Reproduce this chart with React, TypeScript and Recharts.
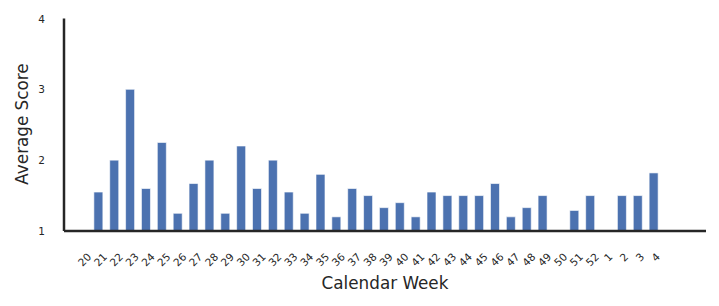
import React from 'react';
import { BarChart, Bar, XAxis, YAxis } from 'recharts';

// calendar weeks, spanning the year end
const weeks = [
  '20', '21', '22', '23', '24', '25', '26', '27', '28', '29', '30', '31', '32',
  '33', '34', '35', '36', '37', '38', '39', '40', '41', '42', '43', '44', '45',
  '46', '47', '48', '49', '50', '51', '52', '1', '2', '3', '4'
];

// average score per week (null = no data)
const scores: (number | null)[] = [
  null, 1.55, 2.0, 3.0, 1.6, 2.25, 1.25, 1.67, 2.0, 1.25, 2.2, 1.6, 2.0,
  1.55, 1.25, 1.8, 1.2, 1.6, 1.5, 1.33, 1.4, 1.2, 1.55, 1.5, 1.5, 1.5,
  1.67, 1.2, 1.33, 1.5, null, 1.29, 1.5, null, 1.5, 1.5, 1.82
];

const yTicks = [1, 2, 3, 4];

const data = weeks.map((week, i) => ({ week, score: scores[i] }));

const FONT = '"DejaVu Sans", sans-serif';
const INK = '#262626';

const WeekTick = (props: any) => {
  const { x, y, payload } = props;
  const label = String(payload.value);
  const fs = 10.5;
  const w = label.length * fs * 0.636;
  const half = (w + fs * 0.73) / (2 * Math.SQRT2);
  const cx = x + 1.5;
  const cy = y + 13 + half;
  return (
    <text
      x={cx}
      y={cy}
      textAnchor="middle"
      dominantBaseline="central"
      fontSize={fs}
      fontFamily={FONT}
      fill={INK}
      transform={`rotate(-45 ${cx} ${cy})`}
    >
      {label}
    </text>
  );
};

const ScoreTick = (props: any) => {
  const { y, payload } = props;
  return (
    <text
      x={45}
      y={y}
      textAnchor="end"
      dominantBaseline="central"
      fontSize={10.5}
      fontFamily={FONT}
      fill={INK}
    >
      {payload.value}
    </text>
  );
};

export default function App() {
  return (
    <div style={{ position: 'absolute', left: 0, top: 0, background: '#fff' }}>
      <BarChart
        width={719}
        height={306}
        data={data}
        margin={{ top: 18.5, right: 13, bottom: 0, left: 0 }}
      >
        <XAxis
          dataKey="week"
          interval={0}
          height={75}
          padding={{ left: 11, right: 44 }}
          tickLine={false}
          axisLine={{ stroke: INK, strokeWidth: 2.5 }}
          tick={<WeekTick />}
          label={{
            content: () => (
              <text
                x={385}
                y={289}
                textAnchor="middle"
                fontSize={16.8}
                fontFamily={FONT}
                fill={INK}
              >
                Calendar Week
              </text>
            )
          }}
        />
        <YAxis
          width={64}
          domain={[1, 4]}
          ticks={yTicks}
          tickLine={false}
          axisLine={{ stroke: INK, strokeWidth: 2.5 }}
          tick={<ScoreTick />}
          label={{
            content: () => (
              <text
                x={28}
                y={124}
                textAnchor="middle"
                fontSize={16.8}
                fontFamily={FONT}
                fill={INK}
                transform="rotate(-90 28 124)"
              >
                Average Score
              </text>
            )
          }}
        />
        <Bar
          dataKey="score"
          fill="#4c72b0"
          stroke="#ffffff"
          strokeOpacity={0.6}
          strokeWidth={1}
          barSize={9}
          isAnimationActive={false}
        />
      </BarChart>
    </div>
  );
}
